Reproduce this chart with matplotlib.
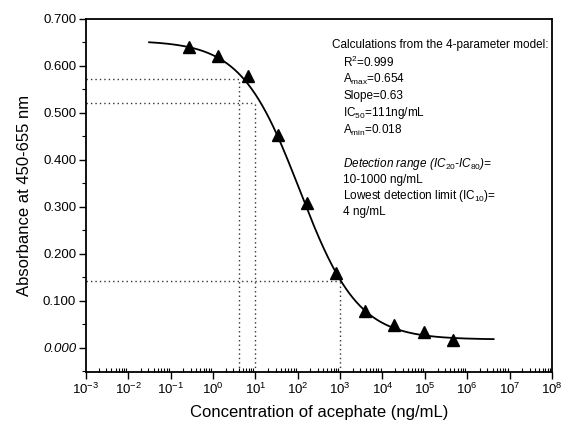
import numpy as np
import matplotlib
matplotlib.use("Agg")
import matplotlib.pyplot as plt
from matplotlib.ticker import LogLocator, FixedLocator, MultipleLocator, NullFormatter

plt.rcParams['font.family'] = ['Liberation Sans', 'DejaVu Sans']
plt.rcParams['mathtext.fontset'] = 'custom'
plt.rcParams['mathtext.rm'] = 'Liberation Sans'
plt.rcParams['mathtext.it'] = 'Liberation Sans:italic'
plt.rcParams['mathtext.bf'] = 'Liberation Sans:bold'

# --- data ---
conc = [0.27, 1.3, 6.6, 34, 165, 810, 3900, 19000, 95000, 460000]
absorb = [0.640, 0.621, 0.578, 0.453, 0.309, 0.160, 0.079, 0.049, 0.034, 0.017]

# 4-parameter model parameters (from the chart)
A_max = 0.654
A_min = 0.018
slope = 0.63
IC50 = 111.0
curve_start = 0.031
curve_end = 4.2e6

# dotted guide lines: (IC10, IC20, IC80)
guide_x = [4, 10, 1000]
guide_y = [0.572, 0.522, 0.142]

ytick_vals = [0.0, 0.1, 0.2, 0.3, 0.4, 0.5, 0.6, 0.7]
ytick_labels = ["0.000", "0.100", "0.200", "0.300", "0.400", "0.500", "0.600", "0.700"]
xtick_exps = list(range(-3, 9))

fig = plt.figure(figsize=(5.69, 4.30), dpi=100)
ax = fig.add_axes([0.151, 0.135, 0.819, 0.821])

xc = np.logspace(np.log10(curve_start), np.log10(curve_end), 400)
yc = A_min + (A_max - A_min) / (1 + (xc / IC50) ** slope)
ax.plot(xc, yc, color='black', lw=1.3, zorder=3)
ax.plot(conc, absorb, linestyle='none', marker='^', color='black', markersize=9, zorder=4)

ymin = -0.051
for gx, gy in zip(guide_x, guide_y):
    ax.plot([1e-3, gx], [gy, gy], color='#333333', lw=1.0, linestyle=(0, (1, 2.2)), zorder=2)
    ax.plot([gx, gx], [ymin, gy], color='#333333', lw=1.0, linestyle=(0, (1, 2.2)), zorder=2)

ax.set_xscale('log')
ax.set_xlim(1e-3, 1e8)
ax.set_ylim(ymin, 0.70)

ax.xaxis.set_major_locator(FixedLocator([10.0 ** e for e in xtick_exps]))
ax.set_xticklabels([r"10$^{%d}$" % e for e in xtick_exps])
ax.xaxis.set_minor_locator(LogLocator(base=10, subs=np.arange(2, 10), numticks=100))
ax.xaxis.set_minor_formatter(NullFormatter())

ax.set_yticks(ytick_vals)
ax.set_yticklabels(ytick_labels)
ax.yaxis.set_minor_locator(MultipleLocator(0.05))
ax.get_yticklabels()[0].set_fontstyle('italic')

ax.tick_params(axis='both', which='major', direction='out', length=5, width=1.0, labelsize=9.5, pad=2)
ax.tick_params(axis='y', which='minor', direction='out', length=3, width=0.8)
ax.tick_params(axis='x', which='minor', direction='in', length=3, width=0.8)
ax.tick_params(top=False, right=False, which='both')
for s in ax.spines.values():
    s.set_linewidth(1.3)

ax.set_xlabel("Concentration of acephate (ng/mL)", fontsize=12, labelpad=6)
ax.set_ylabel("Absorbance at 450-655 nm", fontsize=12, labelpad=8)

fs = 8.5
def t(x, y, s, **kw):
    fig.text(x / 569, 1 - y / 430, s, fontsize=fs, va='center', ha='left', **kw)

t(332, 45, "Calculations from the 4-parameter model:")
t(343, 62, r"R$^{2}$=0.999")
t(343, 79, r"A$_{\mathrm{max}}$=0.654")
t(343, 96, "Slope=0.63")
t(343, 113, r"IC$_{50}$=111ng/mL")
t(343, 130, r"A$_{\mathrm{min}}$=0.018")
t(343, 164, r"Detection range (IC$_{20}$-IC$_{80}$)=", fontstyle='italic')
t(343, 180, "10-1000 ng/mL")
t(343, 196, r"Lowest detection limit (IC$_{10}$)=")
t(343, 212, "4 ng/mL")

fig.savefig("out.png", dpi=100)
